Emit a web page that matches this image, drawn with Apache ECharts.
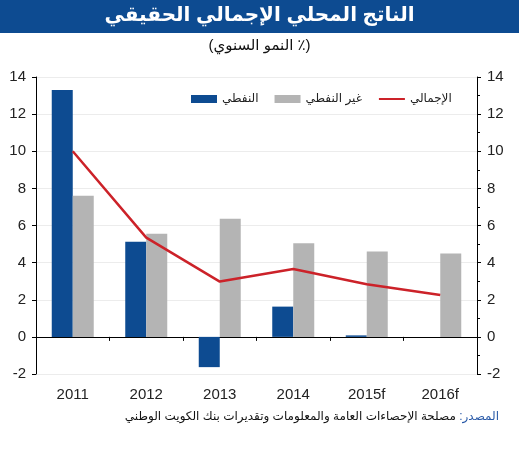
<!DOCTYPE html>
<html>
<head>
<meta charset="utf-8">
<script src="https://cdn.jsdelivr.net/npm/echarts@6/dist/echarts.min.js"></script>
<style>
  html, body { margin: 0; padding: 0; background: #fff; }
  #gdp { width: 519px; height: 450px; }
</style>
</head>
<body>
<div id="gdp"></div>
<script>
// real GDP growth, % y/y
var years = ['2011', '2012', '2013', '2014', '2015f', '2016f'];
var oil = [13.3, 5.13, -1.63, 1.63, 0.08, 0];
var nonOil = [7.6, 5.55, 6.37, 5.05, 4.6, 4.49];
var total = [10.0, 5.35, 2.98, 3.66, 2.84, 2.26];
var seriesNames = ['النفطي', 'غير النفطي', 'الإجمالي'];

var chartDom = document.getElementById('gdp');
var chart = echarts.init(chartDom, null, { renderer: 'canvas' });

var font = 'Arial, "Liberation Sans", "DejaVu Sans", sans-serif';

var option = {
    animation: false,
    textStyle: { fontFamily: font },
    graphic: [
        {
            type: 'rect',
            left: 0, top: 0,
            shape: { width: 519, height: 33 },
            style: { fill: '#0d4b91' }
        },
        {
            type: 'text',
            left: 'center', top: 5,
            style: {
                text: 'الناتج المحلي الإجمالي الحقيقي',
                fill: '#fff',
                font: 'bold 20px ' + font
            }
        },
        {
            type: 'text',
            left: 'center', top: 38,
            style: {
                text: '(النمو السنوي ٪)',
                fill: '#111',
                font: '15px ' + font
            }
        },
        {
            // source line, blue label on the right
            type: 'text',
            right: 20, top: 411,
            style: {
                text: '{a|مصلحة الإحصاءات العامة والمعلومات وتقديرات بنك الكويت الوطني }{b|:المصدر}',
                rich: {
                    a: { fill: '#111', font: '12px ' + font },
                    b: { fill: '#2a5aa8', font: '12px ' + font }
                }
            }
        }
    ],
    legend: {
        left: 186,
        top: 88,
        itemWidth: 26,
        itemHeight: 8,
        itemGap: 16,
        textStyle: { fontSize: 12, color: '#222' },
        data: [
            { name: seriesNames[0], icon: 'rect' },
            { name: seriesNames[1], icon: 'rect' },
            { name: seriesNames[2], itemStyle: { opacity: 0 } }
        ]
    },
    grid: {
        left: 36,
        right: 42,
        top: 77,
        bottom: 76
    },
    xAxis: {
        type: 'category',
        data: years,
        axisLine: { onZero: true, lineStyle: { color: '#000', width: 1 } },
        axisTick: { show: true, length: 4, lineStyle: { color: '#000' } },
        axisLabel: { margin: 13, fontSize: 15, color: '#222' }
    },
    yAxis: [
        {
            type: 'value',
            min: -2, max: 14, interval: 2,
            axisLine: { show: true, lineStyle: { color: '#000' } },
            axisTick: { show: true, length: 4, lineStyle: { color: '#000' } },
            axisLabel: { fontSize: 15, color: '#222', margin: 10 },
            splitLine: { lineStyle: { color: '#ececec' } }
        },
        {
            type: 'value',
            min: -2, max: 14, interval: 2,
            position: 'right',
            axisLine: { show: true, lineStyle: { color: '#000' } },
            axisTick: { show: true, length: 4, lineStyle: { color: '#000' } },
            minorTick: { show: true, splitNumber: 2, length: 3, lineStyle: { color: '#000' } },
            axisLabel: { fontSize: 15, color: '#222', margin: 10 },
            splitLine: { show: false }
        }
    ],
    series: [
        {
            name: seriesNames[0],
            type: 'bar',
            barWidth: 21,
            barGap: '0%',
            itemStyle: { color: '#0d4b91' },
            data: oil
        },
        {
            name: seriesNames[1],
            type: 'bar',
            barWidth: 21,
            barGap: '0%',
            itemStyle: { color: '#b4b4b4' },
            data: nonOil
        },
        {
            name: seriesNames[2],
            type: 'line',
            symbol: 'none',
            lineStyle: { color: '#cc2229', width: 2.5 },
            itemStyle: { color: '#cc2229' },
            data: total
        }
    ]
};
chart.setOption(option);
</script>
</body>
</html>
